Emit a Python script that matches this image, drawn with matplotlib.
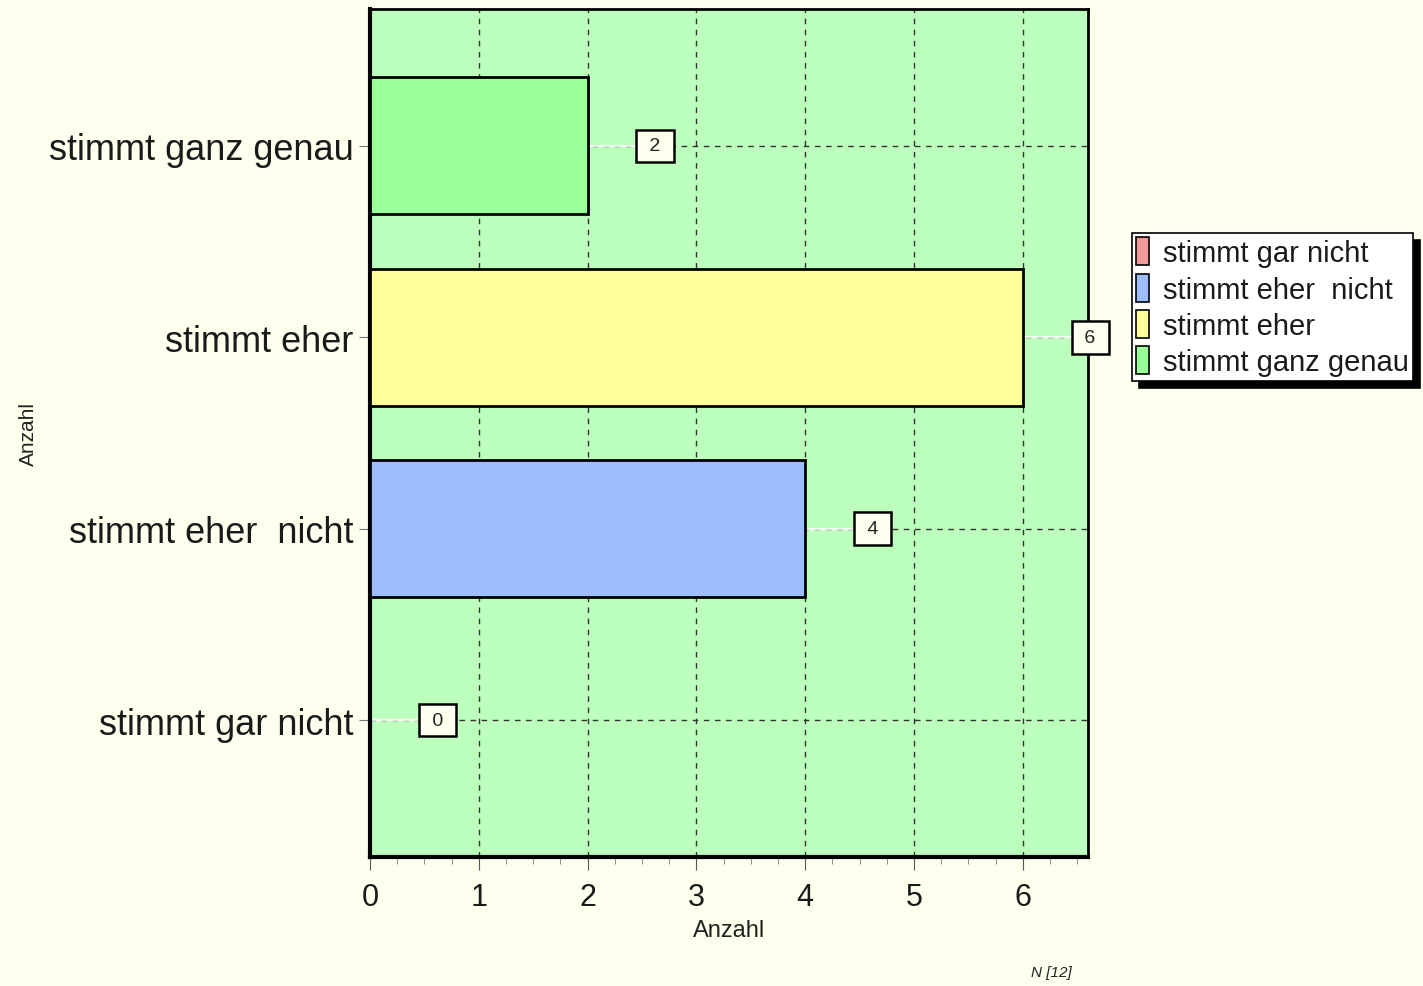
import matplotlib.pyplot as plt
from matplotlib.patches import Patch
from matplotlib.ticker import MultipleLocator

# --- Daten ---
kategorien = ["stimmt gar nicht", "stimmt eher  nicht", "stimmt eher", "stimmt ganz genau"]
anzahl = [0, 4, 6, 2]
farben = ["#F29A9A", "#9DBDFF", "#FFFF99", "#99FF99"]
n_gesamt = 12

plt.rcParams['font.family'] = ['Liberation Sans', 'DejaVu Sans']

hintergrund = "#FFFFEE"
fig = plt.figure(figsize=(14.23, 9.87), dpi=100, facecolor=hintergrund)
ax = fig.add_axes([0.26, 0.1307, 0.5046, 0.8592])
ax.set_facecolor("#BDFFBD")

pos = list(range(len(kategorien)))

# Gitter (gestrichelt)
ax.set_axisbelow(True)
ax.grid(True, which="major", color="#333333", linestyle=(0, (4, 4)), linewidth=1)

# Balken
ax.barh(pos, anzahl, height=0.715, color=farben, edgecolor="black", linewidth=2, zorder=3)

# Beschriftungen mit Hilfslinie
for y, v in zip(pos, anzahl):
    ax.plot([v, v + 0.5], [y, y], color="white", linewidth=1.6, alpha=0.85, zorder=2.5)
    ax.text(v + 0.62, y, f" {v} ", ha="center", va="center", fontsize=14, zorder=4,
            color="#222222",
            bbox=dict(boxstyle="square,pad=0.4", facecolor="#FFFFF0",
                      edgecolor="black", linewidth=1.8))

ax.set_xlim(0, 6.6)
ax.set_ylim(-0.715, 3.715)
ax.set_yticks(pos)
ax.set_yticklabels(kategorien, fontsize=26, color="#1a1a1a")
ax.xaxis.set_major_locator(MultipleLocator(1))
ax.xaxis.set_minor_locator(MultipleLocator(0.25))
ax.tick_params(axis="x", which="major", labelsize=22, length=9, color="#555555", pad=9,
               labelcolor="#1a1a1a")
ax.tick_params(axis="x", which="minor", length=5, color="#777777")
ax.tick_params(axis="y", which="major", length=8, color="#777777", pad=4)

for s in ["left", "bottom"]:
    ax.spines[s].set_linewidth(3)
for s in ["top", "right"]:
    ax.spines[s].set_linewidth(2)

ax.set_xlabel("Anzahl", fontsize=17, labelpad=5, color="#222222")
fig.text(0.02, 0.56, "Anzahl", rotation=90, fontsize=15, ha="center", va="center",
         color="#222222")
fig.text(0.739, 0.007, f"N [{n_gesamt}]", fontsize=11, style="italic", ha="center",
         va="bottom", color="#222222")

# Legende
handles = [Patch(facecolor=f, edgecolor="black", linewidth=1.2) for f in farben]
leg = fig.legend(handles, kategorien, loc="upper left", bbox_to_anchor=(0.7955, 0.763),
                 fontsize=21, frameon=True, fancybox=False,
                 shadow={"color": "black", "alpha": 1, "ox": 5, "oy": -5},
                 handlelength=0.45, handleheight=1.1, handletextpad=0.45,
                 labelspacing=0.22, borderpad=0.15, borderaxespad=0)
leg.get_frame().set_edgecolor("black")
leg.get_frame().set_linewidth(1.2)
for t in leg.get_texts():
    t.set_color("#1a1a1a")

fig.savefig("out.png", dpi=100, facecolor=hintergrund)
